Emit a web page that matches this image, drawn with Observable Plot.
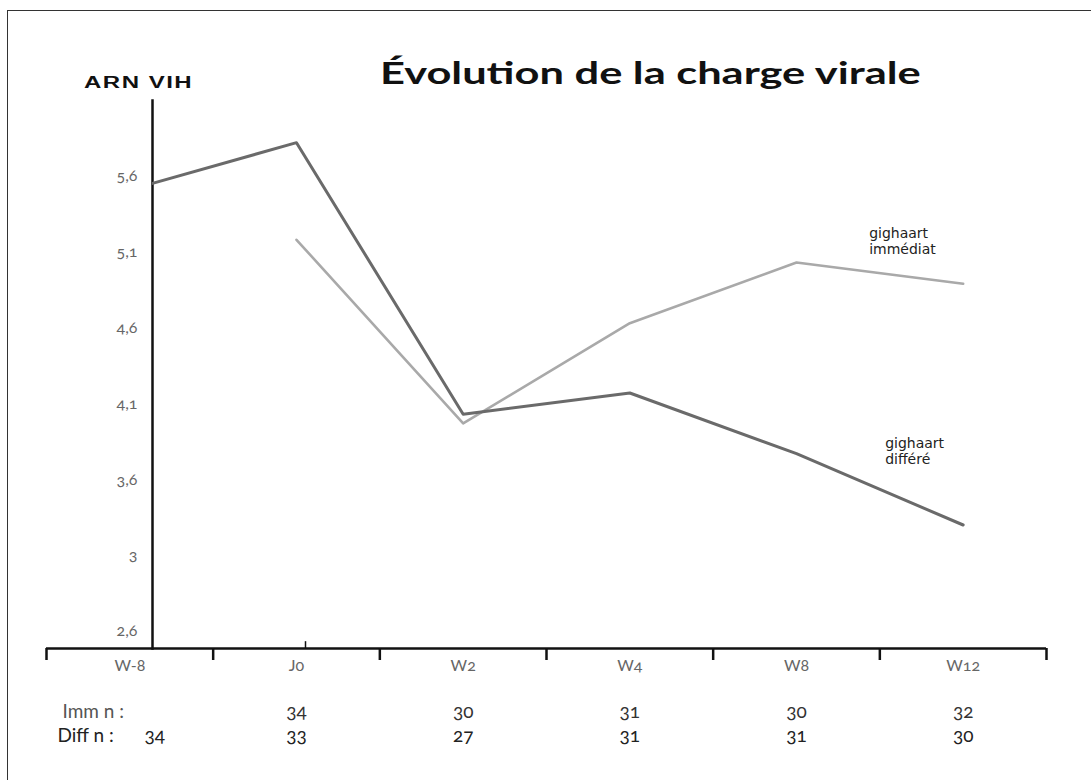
<!DOCTYPE html>
<html>
<head>
<meta charset="utf-8">
<script src="https://cdn.jsdelivr.net/npm/d3@7"></script>
<script src="https://cdn.jsdelivr.net/npm/@observablehq/plot@0.6"></script>
<style>
  html, body { margin: 0; padding: 0; background: #fff; }
  #wrap { position: relative; width: 1091px; height: 780px; overflow: hidden; }
  #border { position: absolute; left: 7px; top: 10px; width: 1200px; height: 900px;
            border-top: 1.5px solid #333; border-left: 1.5px solid #333; box-sizing: border-box; }
  #header { position: relative; height: 92px; }
  #title { position: absolute; left: 380px; top: 57px; margin: 0; font: bold 31px Lato, sans-serif;
           line-height: 1; color: #111; white-space: nowrap; transform: scaleX(1.4); transform-origin: left center; }
  #ylabel { position: absolute; left: 84px; top: 75px; font: bold 16px "Liberation Sans", Arial, sans-serif;
            letter-spacing: 1px; line-height: 1; color: #111; white-space: nowrap;
            transform: scaleX(1.5); transform-origin: left center; }
  #chart { position: absolute; left: 0; top: 92px; }
</style>
</head>
<body>
<div id="wrap">
  <div id="border"></div>
  <div id="header">
    <h1 id="title">Évolution de la charge virale</h1>
    <div id="ylabel">ARN VIH</div>
  </div>
  <div id="chart"></div>
</div>
<script>
// ---- data ----
const categories = ["W-8", "J0", "W2", "W4", "W8", "W12"];
const diffValues = [5.51, 5.82, 4.03, 4.17, 3.77, 3.30];
const immValues = [null, 5.18, 3.97, 4.63, 5.03, 4.89];
const immN = [null, 34, 30, 31, 30, 32];
const diffN = [34, 33, 27, 31, 31, 30];
const yTickValues = [5.6, 5.1, 4.6, 4.1, 3.6, 3.1, 2.6];
const yTickLabels = ["5,6", "5,1", "4,6", "4,1", "3,6", "3", "2,6"];
const seriesLabels = ["gighaart\nimmédiat", "gighaart\ndifféré"];
const rowLabels = ["Imm n :", "Diff n :"];

// ---- tables built from the arrays ----
const diffData = categories.map((c, i) => ({i, cat: c, v: diffValues[i]}));
const immData = categories.map((c, i) => ({i, cat: c, v: immValues[i]})).filter(d => d.v != null);
const immRow = categories.map((c, i) => ({i, n: immN[i]})).filter(d => d.n != null);
const diffRow = categories.map((c, i) => ({i, n: diffN[i]}));
const bounds = d3.range(categories.length + 1).map(k => k - 0.5);

const yMin = 2.486, yMax = 6.098;

const numFont = "Lato, 'Open Sans', sans-serif";

const chart = Plot.plot({
  width: 1091,
  height: 688,
  marginTop: 8,
  marginBottom: 132,
  marginLeft: 152,
  marginRight: 45,
  x: {type: "linear", domain: [-0.5, categories.length - 0.5], range: [46, 1046]},
  y: {domain: [yMin, yMax], axis: null},
  style: {background: "transparent", overflow: "visible"},
  marks: [
    // y axis line (left edge of frame)
    Plot.frame({anchor: "left", stroke: "#111", strokeWidth: 2.5}),
    // x axis line
    Plot.ruleY([yMin], {x1: -0.5, x2: categories.length - 0.5, stroke: "#111", strokeWidth: 2.5}),
    // boundary ticks
    Plot.axisX({ticks: bounds, tickSize: 12, tickFormat: () => "", label: null,
                stroke: "#111", strokeWidth: 2.5}),
    // small upward tick at J0
    Plot.ruleX([1], {x: d => d, y1: yMin, y2: yMin + 0.045, dx: 9, stroke: "#111", strokeWidth: 1.5}),
    // y tick labels
    Plot.text(yTickValues, {y: d => d, text: (d, i) => yTickLabels[i], frameAnchor: "left",
      textAnchor: "end", dx: -15, fill: "#666", fontSize: 16, fontFamily: numFont,
      fontVariant: "oldstyle-nums", ariaLabel: "wide"}),
    // x category labels
    Plot.text(categories, {x: (d, i) => i, text: d => d, frameAnchor: "bottom", dy: 22,
      fill: "#666", fontSize: 16, fontFamily: numFont, fontVariant: "oldstyle-nums", ariaLabel: "wide"}),
    // series lines
    Plot.line(immData, {x: "i", y: "v", stroke: "#a9a9a9", strokeWidth: 2.6, clip: "frame"}),
    Plot.line(diffData, {x: "i", y: "v", stroke: "#6a6a6a", strokeWidth: 3, clip: "frame"}),
    // series labels
    Plot.text([seriesLabels[0]], {x: categories.length - 1, y: 5.175, text: d => d, dx: -94,
      textAnchor: "start", fill: "#222", fontSize: 14, lineHeight: 1.15,
      fontFamily: "'DejaVu Sans', sans-serif", ariaLabel: "series-label"}),
    Plot.text([seriesLabels[1]], {x: categories.length - 1, y: 3.788, text: d => d, dx: -78,
      textAnchor: "start", fill: "#222", fontSize: 14, lineHeight: 1.15,
      fontFamily: "'DejaVu Sans', sans-serif", ariaLabel: "series-label"}),
    // n rows labels
    Plot.text([rowLabels[0]], {x: -0.5, text: d => d, frameAnchor: "bottom", dy: 69, dx: 16,
      textAnchor: "start", fill: "#555", fontSize: 19, fontFamily: numFont, ariaLabel: "rowlabel"}),
    Plot.text([rowLabels[1]], {x: -0.5, text: d => d, frameAnchor: "bottom", dy: 93, dx: 11,
      textAnchor: "start", fill: "#222", fontSize: 19, fontFamily: numFont, ariaLabel: "rowlabel"}),
    // n values
    Plot.text(immRow, {x: "i", text: "n", frameAnchor: "bottom", dy: 69, fill: "#333",
      fontSize: 19, fontFamily: numFont, fontVariant: "oldstyle-nums"}),
    Plot.text(diffRow.filter(d => d.i > 0), {x: "i", text: "n", frameAnchor: "bottom", dy: 93, fill: "#222",
      fontSize: 19, fontFamily: numFont, fontVariant: "oldstyle-nums"}),
    Plot.text(diffRow.filter(d => d.i === 0), {x: "i", text: "n", frameAnchor: "bottom", dy: 93, dx: 25,
      fill: "#222", fontSize: 19, fontFamily: numFont, fontVariant: "oldstyle-nums"})
  ]
});

d3.select(chart).selectAll('g[aria-label="series-label"] text').style("letter-spacing", "1.2px");
d3.select(chart).selectAll('g[aria-label="wide"] text').style("letter-spacing", "1px");
d3.select(chart).selectAll('g[aria-label="rowlabel"] text').style("letter-spacing", "0.5px");
document.getElementById("chart").appendChild(chart);
</script>
</body>
</html>
